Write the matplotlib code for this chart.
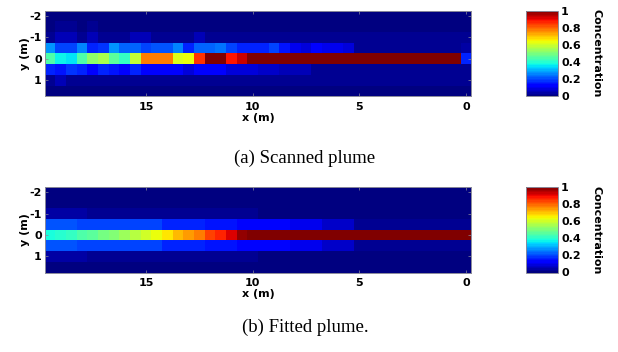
import matplotlib
matplotlib.use('Agg')
import matplotlib.pyplot as plt
import numpy as np

# ---------------- data ----------------
# cell centres (m); columns run left -> right from x=19.5 down to x=0
x_cells = [19.5, 19.0, 18.5, 18.0, 17.5, 17.0, 16.5, 16.0, 15.5, 15.0,
           14.5, 14.0, 13.5, 13.0, 12.5, 12.0, 11.5, 11.0, 10.5, 10.0,
           9.5, 9.0, 8.5, 8.0, 7.5, 7.0, 6.5, 6.0, 5.5, 5.0,
           4.5, 4.0, 3.5, 3.0, 2.5, 2.0, 1.5, 1.0, 0.5, 0.0]
y_cells = [-2.0, -1.5, -1.0, -0.5, 0.0, 0.5, 1.0, 1.5]

# scanned plume, one list per row (y value in the name)
scan_ym20 = [0.01] * 40
scan_ym15 = [0.01, 0.02, 0.02, 0.01, 0.02, 0.01, 0.01, 0.01, 0.01, 0.01,
             0.01, 0.01, 0.01, 0.01, 0.01, 0.01, 0.01, 0.01, 0.01, 0.01,
             0.01, 0.01, 0.01, 0.01, 0.01, 0.01, 0.01, 0.01, 0.01, 0.01,
             0.01, 0.01, 0.01, 0.01, 0.01, 0.01, 0.01, 0.01, 0.01, 0.01]
scan_ym10 = [0.03, 0.05, 0.05, 0.03, 0.06, 0.03, 0.03, 0.03, 0.05, 0.05,
             0.03, 0.03, 0.03, 0.03, 0.05, 0.03, 0.03, 0.03, 0.03, 0.03,
             0.02, 0.02, 0.02, 0.02, 0.02, 0.02, 0.02, 0.02, 0.02, 0.02,
             0.02, 0.02, 0.02, 0.02, 0.02, 0.02, 0.02, 0.02, 0.02, 0.02]
scan_ym05 = [0.27, 0.19, 0.20, 0.25, 0.16, 0.18, 0.27, 0.22, 0.22, 0.20,
             0.21, 0.21, 0.25, 0.17, 0.23, 0.22, 0.24, 0.20, 0.16, 0.16,
             0.17, 0.19, 0.15, 0.10, 0.09, 0.11, 0.10, 0.10, 0.08, 0.03,
             0.03, 0.03, 0.03, 0.03, 0.03, 0.03, 0.03, 0.03, 0.03, 0.04]
scan_y00 = [0.44, 0.37, 0.35, 0.44, 0.53, 0.56, 0.46, 0.41, 0.58, 0.78,
            0.78, 0.78, 0.61, 0.64, 0.85, 1.00, 1.00, 0.88, 0.93, 1.00,
            1.00, 1.00, 1.00, 1.00, 1.00, 1.00, 1.00, 1.00, 1.00, 1.00,
            1.00, 1.00, 1.00, 1.00, 1.00, 1.00, 1.00, 1.00, 1.00, 0.16]
scan_y05 = [0.16, 0.15, 0.18, 0.17, 0.12, 0.16, 0.15, 0.11, 0.16, 0.12,
            0.12, 0.12, 0.12, 0.09, 0.11, 0.11, 0.12, 0.09, 0.09, 0.08,
            0.07, 0.07, 0.06, 0.06, 0.06, 0.03, 0.03, 0.03, 0.03, 0.03,
            0.03, 0.03, 0.03, 0.03, 0.03, 0.03, 0.03, 0.03, 0.03, 0.03]
scan_y10 = [0.02, 0.06, 0.02, 0.02, 0.02, 0.02, 0.02, 0.02, 0.02, 0.02,
            0.02, 0.02, 0.02, 0.02, 0.02, 0.02, 0.02, 0.02, 0.02, 0.02,
            0.02, 0.02, 0.02, 0.02, 0.02, 0.02, 0.02, 0.02, 0.02, 0.02,
            0.02, 0.02, 0.02, 0.02, 0.02, 0.02, 0.02, 0.02, 0.02, 0.02]
scan_y15 = [0.01] * 40

# fitted plume
fit_ym20 = [0.01] * 40
fit_ym15 = [0.01] * 40
fit_ym10 = [0.04, 0.04, 0.04, 0.04, 0.02, 0.02, 0.02, 0.02, 0.02, 0.02,
            0.02, 0.02, 0.02, 0.02, 0.02, 0.02, 0.02, 0.02, 0.02, 0.02,
            0.01, 0.01, 0.01, 0.01, 0.01, 0.01, 0.01, 0.01, 0.01, 0.01,
            0.01, 0.01, 0.01, 0.01, 0.01, 0.01, 0.01, 0.01, 0.01, 0.01]
fit_ym05 = [0.21, 0.21, 0.21, 0.20, 0.20, 0.20, 0.20, 0.20, 0.20, 0.19,
            0.19, 0.17, 0.17, 0.17, 0.17, 0.15, 0.15, 0.15, 0.14, 0.14,
            0.13, 0.13, 0.13, 0.10, 0.10, 0.10, 0.07, 0.07, 0.07, 0.02,
            0.02, 0.02, 0.02, 0.02, 0.02, 0.02, 0.02, 0.02, 0.02, 0.02]
fit_y00 = [0.39, 0.40, 0.42, 0.44, 0.46, 0.49, 0.51, 0.54, 0.57, 0.60,
           0.63, 0.67, 0.71, 0.74, 0.78, 0.83, 0.87, 0.92, 0.97, 1.00,
           1.00, 1.00, 1.00, 1.00, 1.00, 1.00, 1.00, 1.00, 1.00, 1.00,
           1.00, 1.00, 1.00, 1.00, 1.00, 1.00, 1.00, 1.00, 1.00, 1.00]
fit_y05 = fit_ym05
fit_y10 = fit_ym10
fit_y15 = [0.01] * 40

scanned = np.array([scan_ym20, scan_ym15, scan_ym10, scan_ym05,
                    scan_y00, scan_y05, scan_y10, scan_y15])
fitted = np.array([fit_ym20, fit_ym15, fit_ym10, fit_ym05,
                   fit_y00, fit_y05, fit_y10, fit_y15])

x_ticks = [15, 10, 5, 0]
y_ticks = [-2, -1, 0, 1]
cb_ticks = [0, 0.2, 0.4, 0.6, 0.8, 1]
cb_ticklabels = ['0', '0.2', '0.4', '0.6', '0.8', '1']
captions = ['(a) Scanned plume', '(b) Fitted plume.']

# ---------------- figure ----------------
W, H = 618, 352
fig = plt.figure(figsize=(W / 100, H / 100), dpi=100)
cmap = plt.get_cmap('jet', 64)

def px(l, t, r, b):
    return [l / W, 1 - b / H, (r - l) / W, (b - t) / H]

# half-cell edges for pcolormesh
xc = np.array(x_cells)
yc = np.array(y_cells)
x_edges = np.concatenate([xc + 0.25, [xc[-1] - 0.25]])
y_edges = np.concatenate([yc - 0.25, [yc[-1] + 0.25]])

tops = [10.7, 187.0]
cap_ys = [158, 327]
fs = 8
frame_c = '#8a8a9a'

for i, (data, cap) in enumerate(zip([scanned, fitted], captions)):
    t = tops[i]
    ax = fig.add_axes(px(44.7, t, 471.2, t + 85.5))
    mesh = ax.pcolormesh(x_edges, y_edges, data, cmap=cmap, vmin=0, vmax=1,
                         shading='flat')
    ax.set_xlim(x_edges[0], x_edges[-1])
    ax.set_ylim(y_edges[-1], y_edges[0])
    ax.set_xticks(x_ticks)
    ax.set_yticks(y_ticks)
    ax.set_xticklabels([str(v) for v in x_ticks], fontsize=fs, fontweight='bold')
    ax.set_yticklabels([str(v) for v in y_ticks], fontsize=fs, fontweight='bold')
    ax.tick_params(direction='in', length=2.5, width=0.5, color=frame_c,
                   top=True, right=True, pad=2)
    ax.tick_params(axis='x', pad=4)
    for s in ax.spines.values():
        s.set_color(frame_c)
        s.set_linewidth(0.7)
    ax.set_xlabel('x (m)', fontsize=fs, fontweight='bold', labelpad=1)
    ax.set_ylabel('y (m)', fontsize=fs, fontweight='bold', labelpad=0)

    cax = fig.add_axes(px(525.7, t, 558.3, t + 85.5))
    cb = fig.colorbar(mesh, cax=cax, ticks=cb_ticks)
    cb.ax.set_yticklabels(cb_ticklabels, fontsize=fs, fontweight='bold')
    cb.ax.tick_params(length=0, pad=2)
    cb.outline.set_edgecolor(frame_c)
    cb.outline.set_linewidth(0.7)
    cb.set_label('Concentration', fontsize=fs, fontweight='bold',
                 rotation=-90, labelpad=15)

    fig.text(305 / W, 1 - cap_ys[i] / H, cap, ha='center', va='center',
             fontsize=13.5, family='Liberation Serif')

fig.savefig('out.png', dpi=100)
